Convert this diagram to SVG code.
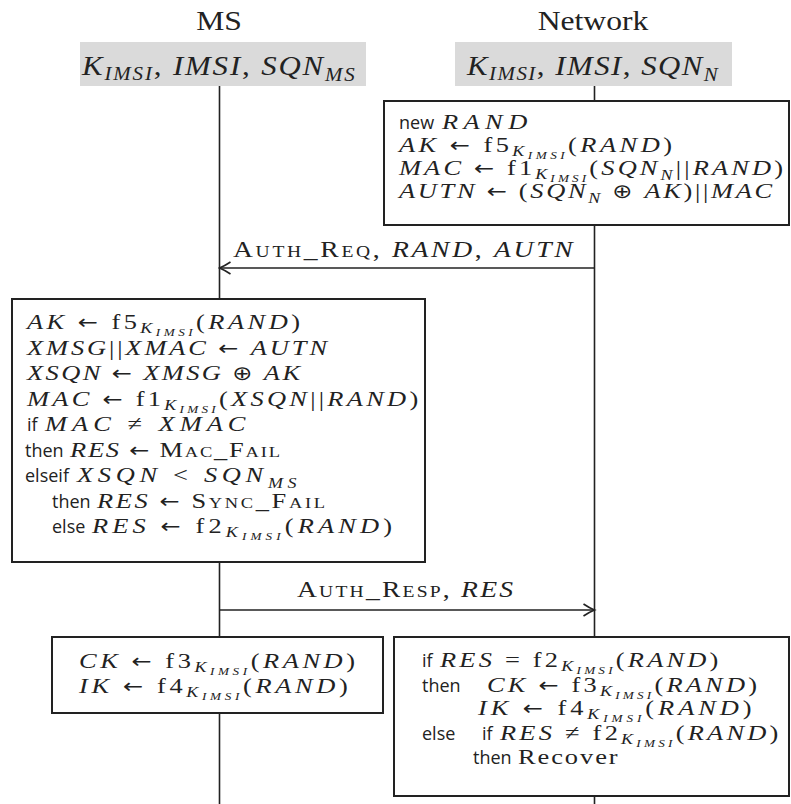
<svg xmlns="http://www.w3.org/2000/svg" width="791" height="804" viewBox="0 0 791 804">
<style>
.t{font-family:"Liberation Serif",serif;fill:#222;font-size:22px}
.h{font-family:"Liberation Serif",serif;fill:#222;font-size:28px}
.i{font-style:italic}
.ar{font-family:"DejaVu Sans",sans-serif;font-style:normal;font-size:20px}
.k{font-family:"Open Sans","Liberation Sans",sans-serif;fill:#222;font-size:18px}
.s1{font-size:15px}
.s2{font-size:11px}
.hs{font-size:19px}
.sc{font-variant:small-caps}
.box{fill:#fff;stroke:#222;stroke-width:2}
.gray{fill:#dadada;stroke:none}
.life{stroke:#222;stroke-width:1.6;fill:none}
.msg{stroke:#222;stroke-width:1.6;fill:none}
</style>
<defs>
<marker id="ah" markerUnits="userSpaceOnUse" markerWidth="14" markerHeight="14" refX="12" refY="7" orient="auto">
<path d="M1,1 Q7,5 12,7 Q7,9 1,13" fill="none" stroke="#222" stroke-width="1.6"/>
</marker>
</defs>
<rect width="791" height="804" fill="#fff"/>

<g id="lifelines">
<path class="life" d="M219.5,86V299M219.5,562V637M219.5,713V804"/>
<path class="life" d="M594.5,86V101M594.5,225V637M594.5,796V804"/>
</g>

<g id="connectors">
<line class="msg" x1="594.5" y1="268" x2="219.5" y2="268" marker-end="url(#ah)"/>
<text class="t" transform="translate(233,257) scale(1.2,1)" textLength="283" style="font-size:23px"><tspan class="sc">Auth_Req</tspan>, <tspan class="i">RAND</tspan>, <tspan class="i">AUTN</tspan></text>
<line class="msg" x1="219.5" y1="610" x2="594.5" y2="610" marker-end="url(#ah)"/>
<text class="t" transform="translate(297,597) scale(1.2,1)" textLength="180" style="font-size:23px"><tspan class="sc">Auth_Resp</tspan>, <tspan class="i">RES</tspan></text>
</g>

<g id="ms">
<text class="h" transform="translate(219,30) scale(1.13,1)" text-anchor="middle">MS</text>
<rect class="gray" x="80" y="42" width="286" height="44"/>
<text class="h" transform="translate(82,75) scale(1.1,1)" textLength="248"><tspan class="i">K</tspan><tspan class="i hs" dy="5">IMSI</tspan><tspan dy="-5">, </tspan><tspan class="i">IMSI</tspan>, <tspan class="i">SQN</tspan><tspan class="i hs" dy="6">MS</tspan></text>
</g>

<g id="network">
<text class="h" transform="translate(593,30) scale(1.13,1)" text-anchor="middle">Network</text>
<rect class="gray" x="455" y="42" width="277" height="44"/>
<text class="h" transform="translate(467,75) scale(1.1,1)" textLength="228"><tspan class="i">K</tspan><tspan class="i hs" dy="5">IMSI</tspan><tspan dy="-5">, </tspan><tspan class="i">IMSI</tspan>, <tspan class="i">SQN</tspan><tspan class="i hs" dy="6">N</tspan></text>
</g>

<g id="net-init">
<rect class="box" x="384" y="101" width="405" height="124"/>
<text class="k" x="399" y="129">new</text>
<text class="t i" transform="translate(442,129) scale(1.2,1)" textLength="71">RAND</text>
<text class="t" transform="translate(399,152) scale(1.2,1)" textLength="227.5"><tspan class="i">AK</tspan> <tspan class="ar">←</tspan> f5<tspan class="i s1" dy="4">K</tspan><tspan class="i s2" dy="3">IMSI</tspan><tspan dy="-7">(</tspan><tspan class="i">RAND</tspan>)</text>
<text class="t" transform="translate(399,175) scale(1.2,1)" textLength="320"><tspan class="i">MAC</tspan> <tspan class="ar">←</tspan> f1<tspan class="i s1" dy="4">K</tspan><tspan class="i s2" dy="3">IMSI</tspan><tspan dy="-7">(</tspan><tspan class="i">SQN</tspan><tspan class="i s1" dy="5">N</tspan><tspan dy="-5">||</tspan><tspan class="i">RAND</tspan>)</text>
<text class="t" transform="translate(399,198) scale(1.2,1)" textLength="311"><tspan class="i">AUTN</tspan> <tspan class="ar">←</tspan> (<tspan class="i">SQN</tspan><tspan class="i s1" dy="5">N</tspan><tspan dy="-5"> </tspan><tspan class="ar">⊕</tspan> <tspan class="i">AK</tspan>)||<tspan class="i">MAC</tspan></text>
</g>

<g id="ms-verify">
<rect class="box" x="12" y="299" width="413" height="263"/>
<text class="t" transform="translate(27,329) scale(1.2,1)" textLength="227.5"><tspan class="i">AK</tspan> <tspan class="ar">←</tspan> f5<tspan class="i s1" dy="4">K</tspan><tspan class="i s2" dy="3">IMSI</tspan><tspan dy="-7">(</tspan><tspan class="i">RAND</tspan>)</text>
<text class="t" transform="translate(27,354.5) scale(1.2,1)" textLength="250"><tspan class="i">XMSG</tspan>||<tspan class="i">XMAC</tspan> <tspan class="ar">←</tspan> <tspan class="i">AUTN</tspan></text>
<text class="t" transform="translate(27,380) scale(1.2,1)" textLength="227.5"><tspan class="i">XSQN</tspan> <tspan class="ar">←</tspan> <tspan class="i">XMSG</tspan> <tspan class="ar">⊕</tspan> <tspan class="i">AK</tspan></text>
<text class="t" transform="translate(27,405.5) scale(1.2,1)" textLength="326"><tspan class="i">MAC</tspan> <tspan class="ar">←</tspan> f1<tspan class="i s1" dy="4">K</tspan><tspan class="i s2" dy="3">IMSI</tspan><tspan dy="-7">(</tspan><tspan class="i">XSQN</tspan>||<tspan class="i">RAND</tspan>)</text>
<text class="k" x="27" y="431">if</text>
<text class="t" transform="translate(45,431) scale(1.2,1)" textLength="167"><tspan class="i">MAC</tspan> ≠ <tspan class="i">XMAC</tspan></text>
<text class="k" x="25" y="456.5">then</text>
<text class="t" transform="translate(70,456.5) scale(1.2,1)" textLength="175"><tspan class="i">RES</tspan> <tspan class="ar">←</tspan> <tspan class="sc">Mac_Fail</tspan></text>
<text class="k" x="25" y="482">elseif</text>
<text class="t" transform="translate(77,482) scale(1.2,1)" textLength="183"><tspan class="i">XSQN</tspan> &lt; <tspan class="i">SQN</tspan><tspan class="i s1" dy="6">MS</tspan></text>
<text class="k" x="52" y="507.5">then</text>
<text class="t" transform="translate(97,507.5) scale(1.2,1)" textLength="190"><tspan class="i">RES</tspan> <tspan class="ar">←</tspan> <tspan class="sc">Sync_Fail</tspan></text>
<text class="k" x="52" y="533">else</text>
<text class="t" transform="translate(92,533) scale(1.2,1)" textLength="250"><tspan class="i">RES</tspan> <tspan class="ar">←</tspan> f2<tspan class="i s1" dy="4">K</tspan><tspan class="i s2" dy="3">IMSI</tspan><tspan dy="-7">(</tspan><tspan class="i">RAND</tspan>)</text>
</g>

<g id="ms-keys">
<rect class="box" x="52" y="637" width="331" height="76"/>
<text class="t" transform="translate(79,668) scale(1.2,1)" textLength="230"><tspan class="i">CK</tspan> <tspan class="ar">←</tspan> f3<tspan class="i s1" dy="4">K</tspan><tspan class="i s2" dy="3">IMSI</tspan><tspan dy="-7">(</tspan><tspan class="i">RAND</tspan>)</text>
<text class="t" transform="translate(79,693) scale(1.2,1)" textLength="224"><tspan class="i">IK</tspan> <tspan class="ar">←</tspan> f4<tspan class="i s1" dy="4">K</tspan><tspan class="i s2" dy="3">IMSI</tspan><tspan dy="-7">(</tspan><tspan class="i">RAND</tspan>)</text>
</g>

<g id="net-check">
<rect class="box" x="394" y="637" width="395" height="159"/>
<text class="k" x="422" y="667">if</text>
<text class="t" transform="translate(440,667) scale(1.2,1)" textLength="232"><tspan class="i">RES</tspan> = f2<tspan class="i s1" dy="4">K</tspan><tspan class="i s2" dy="3">IMSI</tspan><tspan dy="-7">(</tspan><tspan class="i">RAND</tspan>)</text>
<text class="k" x="422" y="692">then</text>
<text class="t" transform="translate(487,692) scale(1.2,1)" textLength="225"><tspan class="i">CK</tspan> <tspan class="ar">←</tspan> f3<tspan class="i s1" dy="4">K</tspan><tspan class="i s2" dy="3">IMSI</tspan><tspan dy="-7">(</tspan><tspan class="i">RAND</tspan>)</text>
<text class="t" transform="translate(478,715) scale(1.2,1)" textLength="228"><tspan class="i">IK</tspan> <tspan class="ar">←</tspan> f4<tspan class="i s1" dy="4">K</tspan><tspan class="i s2" dy="3">IMSI</tspan><tspan dy="-7">(</tspan><tspan class="i">RAND</tspan>)</text>
<text class="k" x="422" y="740">else</text>
<text class="k" x="482" y="740">if</text>
<text class="t" transform="translate(500,740) scale(1.2,1)" textLength="232"><tspan class="i">RES</tspan> ≠ f2<tspan class="i s1" dy="4">K</tspan><tspan class="i s2" dy="3">IMSI</tspan><tspan dy="-7">(</tspan><tspan class="i">RAND</tspan>)</text>
<text class="k" x="473" y="764">then</text>
<text class="t" transform="translate(518,764) scale(1.2,1)" textLength="83">Recover</text>
</g>
</svg>
